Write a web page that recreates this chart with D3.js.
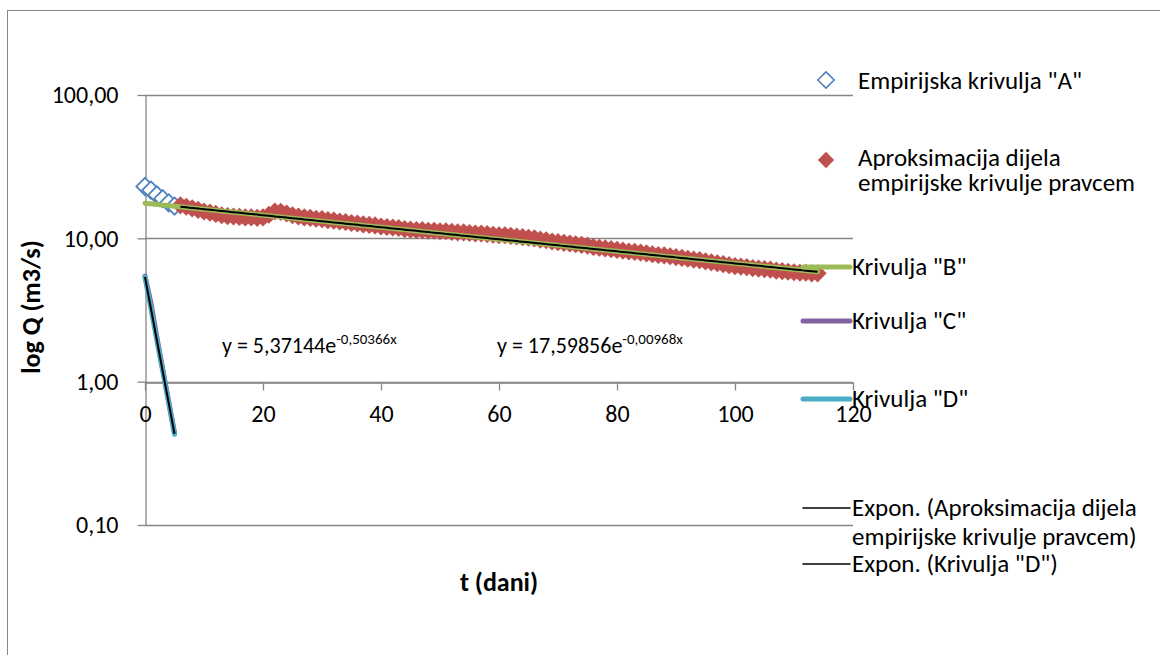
<!DOCTYPE html>
<html>
<head>
<meta charset="utf-8">
<script src="https://cdn.jsdelivr.net/npm/d3@7"></script>
<style>
  body { margin: 0; background: #fff; }
  svg text { font-family: Carlito, Lato, "Liberation Sans", sans-serif; fill: #000; }
</style>
</head>
<body>
<svg id="chart" width="1160" height="655"></svg>
<script>
// empirical curve "A" (days 0..5)
const daysA = [0, 1, 2, 3, 4, 5];
const valuesA = [23.0, 21.7, 20.1, 18.9, 17.7, 16.8];

// part of the empirical curve approximated by a line (days 6..114)
const daysR = d3.range(6, 115);
const valuesR = [
  17.0, 16.6, 16.2, 15.8, 15.4, 15.1, 14.8, 14.5, 14.3, 14.2,
  14.1, 14.0, 14.0, 13.9, 14.0, 14.6, 15.4, 15.3, 14.9, 14.5,
  14.2, 14.0, 13.9, 13.7, 13.6, 13.4, 13.3, 13.1, 13.0, 12.8,
  12.7, 12.5, 12.4, 12.3, 12.1, 12.0, 11.9, 11.8, 11.6, 11.5,
  11.4, 11.4, 11.3, 11.3, 11.2, 11.2, 11.1, 11.0, 11.0, 10.9,
  10.8, 10.8, 10.7, 10.6, 10.5, 10.5, 10.4, 10.3, 10.2, 10.1,
  10.0, 9.8, 9.7, 9.5, 9.4, 9.3, 9.2, 9.1, 9.0, 8.9,
  8.7, 8.6, 8.5, 8.4, 8.3, 8.2, 8.1, 8.05, 7.95, 7.85,
  7.75, 7.65, 7.6, 7.5, 7.4, 7.3, 7.2, 7.1, 7.05, 6.9,
  6.8, 6.7, 6.6, 6.5, 6.4, 6.35, 6.3, 6.2, 6.15, 6.1,
  6.05, 5.95, 5.9, 5.85, 5.8, 5.75, 5.75, 5.7, 5.7
];

// curve "B"
const daysB = [0, 114];
const valuesB = [17.60, 5.84];

// curve "C"
const daysC = [0, 1, 2, 3, 4, 5];
const valuesC = [5.45, 3.55, 2.05, 1.22, 0.73, 0.44];

// curve "D"
const daysD = [0, 1, 2, 3, 4, 5];
const valuesD = [5.37, 3.25, 1.96, 1.19, 0.72, 0.43];

// exponential trendlines  y = a * e^(b x)
const trendR = { a: 17.59856, b: -0.00968, from: 6, to: 114 };
const trendD = { a: 5.37144, b: -0.50366, from: 0, to: 5 };

const xTicks = [0, 20, 40, 60, 80, 100, 120];
const yTicks = [0.1, 1, 10, 100];

const legendLabels = [
  ['Empirijska krivulja "A"'],
  ['Aproksimacija dijela', 'empirijske krivulje pravcem'],
  ['Krivulja "B"'],
  ['Krivulja "C"'],
  ['Krivulja "D"'],
  ['Expon. (Aproksimacija dijela', 'empirijske krivulje pravcem)'],
  ['Expon. (Krivulja "D")']
];

const C = {
  blue: "#4F81BD", red: "#C0504D", green: "#9BBB59",
  purple: "#8064A2", cyan: "#4BACC6", grid: "#868686"
};
const FS = 24;   // tick labels
const LFS = 25;  // legend

const svg = d3.select("#chart");

// outer chart border
svg.append("rect")
  .attr("x", 7.5).attr("y", 10.5)
  .attr("width", 1200).attr("height", 700)
  .attr("fill", "none").attr("stroke", C.grid).attr("stroke-width", 1);

const x = d3.scaleLinear().domain([0, 120]).range([145, 853]);
const y = d3.scaleLog().domain([0.1, 100]).range([525, 95]);

const loc = d3.formatLocale({ decimal: ",", thousands: ".", grouping: [3], currency: ["", ""] });
const fmt = loc.format(".2f");

// horizontal gridlines
svg.append("g")
  .selectAll("line")
  .data(yTicks)
  .join("line")
  .attr("x1", x(0)).attr("x2", x(120))
  .attr("y1", d => Math.round(y(d)) + 0.5)
  .attr("y2", d => Math.round(y(d)) + 0.5)
  .attr("stroke", C.grid).attr("stroke-width", 1.3);

// y axis
const gy = svg.append("g")
  .attr("transform", `translate(${x(0) + 0.5},0)`)
  .call(d3.axisLeft(y).tickValues(yTicks).tickFormat(fmt).tickSize(8).tickPadding(19).tickSizeOuter(0));
gy.select(".domain").attr("stroke", C.grid).attr("stroke-width", 1.3);
gy.selectAll(".tick line").attr("stroke", C.grid).attr("stroke-width", 1.3);
gy.selectAll(".tick text").attr("font-size", FS).attr("font-family", null);

// x axis crossing at 1,00
const gx = svg.append("g")
  .attr("transform", `translate(0,${Math.round(y(1)) + 0.5})`)
  .call(d3.axisBottom(x).tickValues(xTicks).tickSize(8).tickPadding(14).tickSizeOuter(0));
gx.select(".domain").attr("stroke", C.grid).attr("stroke-width", 1.3);
gx.selectAll(".tick line").attr("stroke", C.grid).attr("stroke-width", 1.3);
gx.selectAll(".tick text").attr("font-size", FS).attr("font-family", null);

// axis titles
svg.append("text")
  .attr("transform", "translate(40,307) rotate(-90)")
  .attr("text-anchor", "middle")
  .attr("font-size", 26).attr("font-weight", "bold")
  .text("log Q (m3/s)");
svg.append("text")
  .attr("x", 499).attr("y", 591)
  .attr("text-anchor", "middle")
  .attr("font-size", 26).attr("font-weight", "bold")
  .text("t (dani)");

const diamond = d3.symbol().type(d3.symbolDiamond2).size(190);

// series A
svg.append("g")
  .selectAll("path")
  .data(daysA.map((d, i) => [d, valuesA[i]]))
  .join("path")
  .attr("d", diamond)
  .attr("transform", d => `translate(${x(d[0])},${y(d[1])})`)
  .attr("fill", "#fff").attr("stroke", C.blue).attr("stroke-width", 1.8);

// series approximation
svg.append("g")
  .selectAll("path")
  .data(daysR.map((d, i) => [d, valuesR[i]]))
  .join("path")
  .attr("d", d3.symbol().type(d3.symbolDiamond2).size(210))
  .attr("transform", d => `translate(${x(d[0])},${y(d[1])})`)
  .attr("fill", C.red);

const line = d3.line().x(d => x(d[0])).y(d => y(d[1]));

function drawLine(days, vals, color, w) {
  svg.append("path")
    .datum(days.map((d, i) => [d, vals[i]]))
    .attr("d", line)
    .attr("fill", "none")
    .attr("stroke", color)
    .attr("stroke-width", w)
    .attr("stroke-linecap", "round")
    .attr("stroke-linejoin", "round");
}

drawLine(daysB, valuesB, C.green, 5);
drawLine(daysC, valuesC, C.purple, 5);
drawLine(daysD, valuesD, C.cyan, 5);

// trendlines
[trendR, trendD].forEach(t => {
  const pts = d3.range(t.from, t.to + 0.001, 0.5).map(d => [d, t.a * Math.exp(t.b * d)]);
  svg.append("path")
    .datum(pts)
    .attr("d", line)
    .attr("fill", "none")
    .attr("stroke", "#000")
    .attr("stroke-width", 2);
});

// trendline equations
function equation(xp, yp, base, sup) {
  const t = svg.append("text").attr("x", xp).attr("y", yp).attr("font-size", 22);
  t.append("tspan").text(base);
  t.append("tspan").attr("dy", -9).attr("font-size", 15).text(sup);
}
equation(222, 353, "y = 5,37144e", "-0,50366x");
equation(497, 353, "y = 17,59856e", "-0,00968x");

// legend
const legendY = [[80], [157, 182], [266], [320], [398], [507, 536], [563]];
const lg = svg.append("g");
legendLabels.forEach((lab, i) => {
  const cy = legendY[i][0];
  if (i === 0 || i === 1) {
    lg.append("path")
      .attr("d", d3.symbol().type(d3.symbolDiamond2).size(170))
      .attr("transform", `translate(826,${i === 0 ? cy : cy + 3})`)
      .attr("fill", i === 0 ? "#fff" : C.red)
      .attr("stroke", i === 0 ? C.blue : "none")
      .attr("stroke-width", 1.6);
  } else {
    const col = [null, null, C.green, C.purple, C.cyan, "#000", "#000"][i];
    lg.append("line")
      .attr("x1", 803).attr("x2", 850)
      .attr("y1", cy + 1).attr("y2", cy + 1)
      .attr("stroke", col)
      .attr("stroke-width", i >= 5 ? 1.5 : 5)
      .attr("stroke-linecap", "round");
  }
  lab.forEach((s, j) => {
    lg.append("text")
      .attr("x", i <= 1 ? 858 : 852)
      .attr("y", legendY[i][j])
      .attr("dy", "0.35em")
      .attr("font-size", LFS)
      .text(s);
  });
});
</script>
</body>
</html>
